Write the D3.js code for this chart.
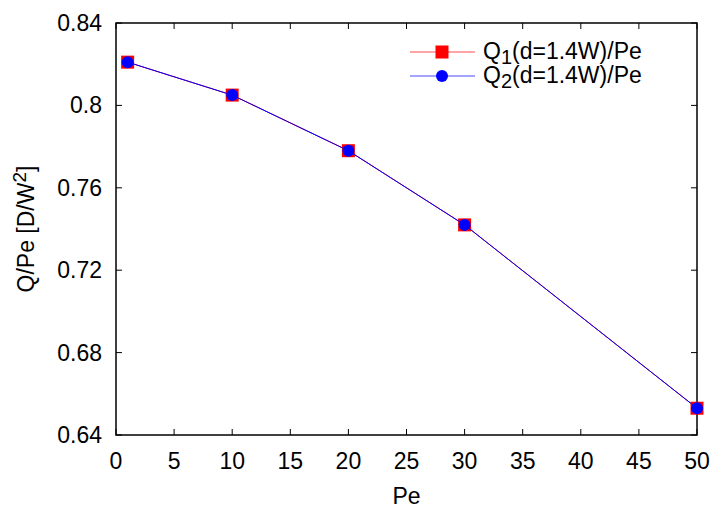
<!DOCTYPE html>
<html>
<head>
<meta charset="utf-8">
<script src="https://cdn.jsdelivr.net/npm/d3@7"></script>
<style>
  body { margin: 0; background: #fff; }
  text { font-family: "Liberation Sans", Arial, sans-serif; }
</style>
</head>
<body>
<script>
// data
const pe = [1, 10, 20, 30, 50];
const q1 = [0.821, 0.805, 0.778, 0.742, 0.653];
const q2 = [0.821, 0.805, 0.778, 0.742, 0.653];
const xTicks = [0, 5, 10, 15, 20, 25, 30, 35, 40, 45, 50];
const yTicks = [0.64, 0.68, 0.72, 0.76, 0.80, 0.84];

const width = 715, height = 511;
const margin = { left: 116, right: 18, top: 23, bottom: 76 };

const svg = d3.select('body').append('svg')
  .attr('width', width)
  .attr('height', height);

const x = d3.scaleLinear().domain([0, 50]).range([margin.left, width - margin.right]);
const y = d3.scaleLinear().domain([0.64, 0.84]).range([height - margin.bottom, margin.top]);

const tickLen = 6;
const axisColor = '#000';
const fs = '23px';

// ticks on all four sides, pointing inward
svg.selectAll('.xtb').data(xTicks).enter().append('line')
  .attr('x1', d => x(d)).attr('x2', d => x(d))
  .attr('y1', y(0.64)).attr('y2', y(0.64) - tickLen)
  .style('stroke', axisColor).style('stroke-width', 1);
svg.selectAll('.xtt').data(xTicks).enter().append('line')
  .attr('x1', d => x(d)).attr('x2', d => x(d))
  .attr('y1', y(0.84)).attr('y2', y(0.84) + tickLen)
  .style('stroke', axisColor).style('stroke-width', 1);
svg.selectAll('.ytl').data(yTicks).enter().append('line')
  .attr('x1', x(0)).attr('x2', x(0) + tickLen)
  .attr('y1', d => y(d)).attr('y2', d => y(d))
  .style('stroke', axisColor).style('stroke-width', 1);
svg.selectAll('.ytr').data(yTicks).enter().append('line')
  .attr('x1', x(50)).attr('x2', x(50) - tickLen)
  .attr('y1', d => y(d)).attr('y2', d => y(d))
  .style('stroke', axisColor).style('stroke-width', 1);

// frame
svg.append('rect')
  .attr('x', x(0)).attr('y', y(0.84))
  .attr('width', x(50) - x(0)).attr('height', y(0.64) - y(0.84))
  .style('fill', 'none').style('stroke', axisColor).style('stroke-width', 1.5);

// tick labels
svg.selectAll('.xl').data(xTicks).enter().append('text')
  .attr('x', d => x(d)).attr('y', y(0.64) + 34)
  .attr('text-anchor', 'middle')
  .style('font-size', fs)
  .text(d => d);
svg.selectAll('.yl').data(yTicks).enter().append('text')
  .attr('x', x(0) - 14).attr('y', d => y(d) + 8)
  .attr('text-anchor', 'end')
  .style('font-size', fs)
  .text(d => d3.format('')(+d.toFixed(2)));

// axis titles
svg.append('text')
  .attr('x', x(25)).attr('y', height - 7)
  .attr('text-anchor', 'middle')
  .style('font-size', fs)
  .text('Pe');

const yTitle = svg.append('text')
  .attr('transform', `translate(34, ${(y(0.64) + y(0.84)) / 2}) rotate(-90)`)
  .attr('text-anchor', 'middle')
  .style('font-size', fs);
yTitle.append('tspan').text('Q/Pe [D/W');
yTitle.append('tspan').attr('dy', -8).style('font-size', '19px').text('2');
yTitle.append('tspan').attr('dy', 8).text(']');

// series
const line = d3.line().x(d => x(d[0])).y(d => y(d[1]));
const s1 = pe.map((p, i) => [p, q1[i]]);
const s2 = pe.map((p, i) => [p, q2[i]]);

svg.append('path').datum(s1).attr('d', line)
  .style('fill', 'none').style('stroke', '#ff0000').style('stroke-width', 1);
svg.selectAll('.sq').data(s1).enter().append('rect')
  .attr('x', d => x(d[0]) - 6.5).attr('y', d => y(d[1]) - 6.5)
  .attr('width', 13).attr('height', 13)
  .style('fill', '#ff0000');

svg.append('path').datum(s2).attr('d', line)
  .style('fill', 'none').style('stroke', '#0000ff').style('stroke-width', 1);
svg.selectAll('.ci').data(s2).enter().append('circle')
  .attr('cx', d => x(d[0])).attr('cy', d => y(d[1]))
  .attr('r', 6)
  .style('fill', '#0000ff');

// legend
const legend = [
  { name: 'Q', sub: '1', rest: '(d=1.4W)/Pe', color: '#ff0000', shape: 'square' },
  { name: 'Q', sub: '2', rest: '(d=1.4W)/Pe', color: '#0000ff', shape: 'circle' }
];
legend.forEach((l, i) => {
  const ly = 52 + i * 24;
  svg.append('line')
    .attr('x1', 410).attr('x2', 475).attr('y1', ly).attr('y2', ly)
    .style('stroke', l.color).style('stroke-width', 1).style('opacity', 0.7);
  if (l.shape === 'square') {
    svg.append('rect').attr('x', 442 - 6.5).attr('y', ly - 6.5)
      .attr('width', 13).attr('height', 13).style('fill', l.color);
  } else {
    svg.append('circle').attr('cx', 442).attr('cy', ly).attr('r', 6).style('fill', l.color);
  }
  const t = svg.append('text').attr('x', 483).attr('y', ly + 7).style('font-size', fs);
  t.append('tspan').text(l.name);
  t.append('tspan').attr('dy', 5).style('font-size', '20px').text(l.sub);
  t.append('tspan').attr('dy', -5).text(l.rest);
});
</script>
</body>
</html>
